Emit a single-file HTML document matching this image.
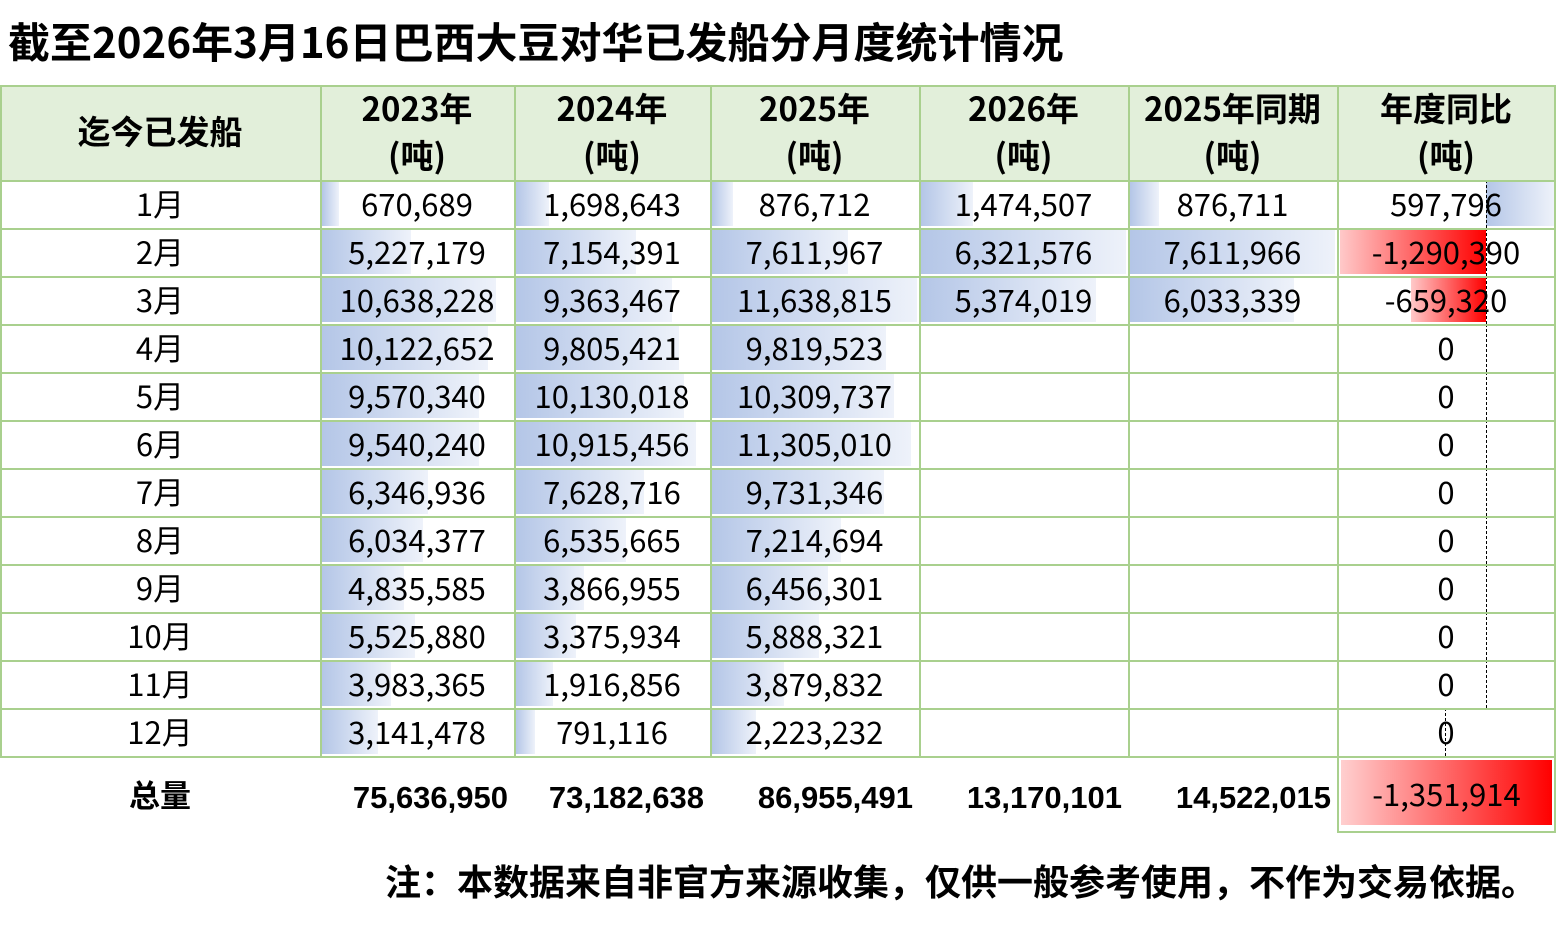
<!DOCTYPE html>
<html><head><meta charset="utf-8"><style>
body{margin:0;width:1557px;height:928px;background:#fff;position:relative;overflow:hidden;font-family:"Noto Sans CJK SC","Liberation Sans",sans-serif;color:#000}
.a{position:absolute}
.t{position:absolute;left:8px;top:15px;font-size:42px;font-weight:bold;line-height:52px;white-space:nowrap}
.c{position:absolute;box-sizing:border-box;display:flex;align-items:center;justify-content:center;font-size:31px;white-space:nowrap}
.n{padding-bottom:4px}
.bar{position:absolute}
.h{font-weight:bold;font-size:33px;line-height:47px;text-align:center}
</style></head><body>
<div class="t">截至2026年3月16日巴西大豆对华已发船分月度统计情况</div>
<div id="g"></div>
<div class="a" style="left:0;top:852px;width:1537px;text-align:right;font-size:36px;font-weight:bold;line-height:56px;white-space:nowrap">注：本数据来自非官方来源收集，仅供一般参考使用，不作为交易依据。</div>
<script>
var X=[0,320,514,710,919,1128,1337,1555];
var hd=["迄今已发船","2023年<br>(吨)","2024年<br>(吨)","2025年<br>(吨)","2026年<br>(吨)","2025年同期<br>(吨)","年度同比<br>(吨)"];
var d=[
[670689,1698643,876712,1474507,876711,597796],
[5227179,7154391,7611967,6321576,7611966,-1290390],
[10638228,9363467,11638815,5374019,6033339,-659320],
[10122652,9805421,9819523,null,null,0],
[9570340,10130018,10309737,null,null,0],
[9540240,10915456,11305010,null,null,0],
[6346936,7628716,9731346,null,null,0],
[6034377,6535665,7214694,null,null,0],
[4835585,3866955,6456301,null,null,0],
[5525880,3375934,5888321,null,null,0],
[3983365,1916856,3879832,null,null,0],
[3141478,791116,2223232,null,null,0]];
var h='';
var G='#a9d08e';
h+='<div class="a" style="left:0;top:85px;width:1555px;height:95px;background:#e2efda"></div>';
for(var i=0;i<7;i++){
 h+='<div class="c h" style="left:'+X[i]+'px;top:83px;width:'+(X[i+1]-X[i])+'px;height:95px"><div>'+hd[i]+'</div></div>';
}
var mx=[11638815,11638815,11638815,6321576,7611966];
function f(n){return n.toLocaleString('en-US');}
var axis=1486,sc=146/1290390;
for(var r=0;r<12;r++){
 var y=180+r*48;
 h+='<div class="c n" style="left:0;top:'+y+'px;width:320px;height:48px">'+(r+1)+'月</div>';
 for(var c=0;c<5;c++){
  var v=d[r][c];if(v==null)continue;
  var x0=X[c+1]+2,W=X[c+2]-X[c+1]-4,w=Math.round(6+v/mx[c]*(W-6));
  h+='<div class="bar" style="left:'+x0+'px;top:'+(y+2)+'px;width:'+w+'px;height:44px;background:linear-gradient(90deg,#b4c6e7,#eef2fa)"></div>';
  h+='<div class="c n" style="left:'+X[c+1]+'px;top:'+y+'px;width:'+(X[c+2]-X[c+1])+'px;height:48px">'+f(v)+'</div>';
 }
 var v=d[r][5];
 if(v>0){h+='<div class="bar" style="left:'+axis+'px;top:'+(y+2)+'px;width:'+Math.round(v*sc)+'px;height:44px;background:linear-gradient(90deg,#b4c6e7,#eef2fa)"></div>';}
 else if(v<0){var w=Math.round(-v*sc);h+='<div class="bar" style="left:'+(axis-w)+'px;top:'+(y+2)+'px;width:'+w+'px;height:44px;background:linear-gradient(90deg,#ffc9c9,#ff0000)"></div>';}
 var ax=r==11?1445:axis;
 h+='<div class="a" style="left:'+ax+'px;top:'+y+'px;height:48px;border-left:1px dashed #000"></div>';
 h+='<div class="c n" style="left:1337px;top:'+y+'px;width:218px;height:48px">'+f(v)+'</div>';
}
for(var r=0;r<=13;r++){var y=r==0?85:180+(r-1)*48;h+='<div class="a" style="left:0;top:'+y+'px;width:1556px;height:2px;background:'+G+'"></div>';}
for(var i=0;i<8;i++)h+='<div class="a" style="left:'+(X[i]-(i==7?1:0))+'px;top:85px;width:2px;height:672px;background:'+G+'"></div>';
var tot=[75636950,73182638,86955491,13170101,14522015];
h+='<div class="c" style="left:0;top:756px;width:320px;height:74px;font-weight:bold;font-size:31px">总量</div>';
for(var c=0;c<5;c++){h+='<div class="a" style="left:'+X[c+1]+'px;top:776px;width:'+(X[c+2]-X[c+1]-6)+'px;text-align:right;font-family:\'Liberation Sans\',sans-serif;font-weight:bold;font-size:31px;line-height:44px">'+f(tot[c])+'</div>';}
h+='<div class="c n" style="left:1337px;top:756px;width:219px;height:77px;border:2px solid '+G+';background:linear-gradient(90deg,#ffcfcf,#ff0000) content-box;padding:2px 2px 6px">-1,351,914</div>';
document.getElementById('g').innerHTML=h;
</script>
</body></html>
